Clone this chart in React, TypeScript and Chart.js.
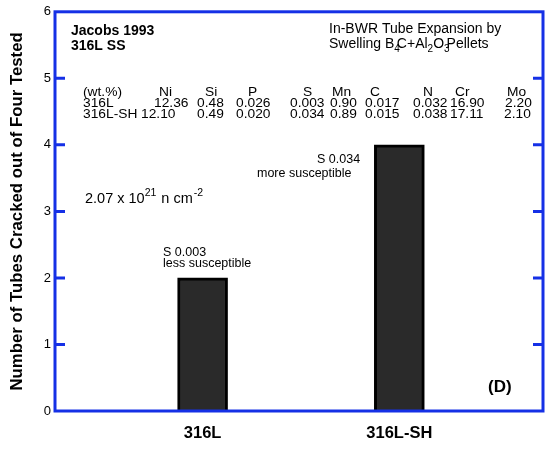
import React, { useEffect, useRef } from 'react';
import { Chart, registerables } from 'chart.js';

Chart.register(...registerables);

// ---- data ----
const categories = ['316L', '316L-SH'];
const crackedTubes = [2, 4];
const yTickValues = [0, 1, 2, 3, 4, 5, 6];
const elements = ['Ni', 'Si', 'P', 'S', 'Mn', 'C', 'N', 'Cr', 'Mo'];
const comp316L = ['12.36', '0.48', '0.026', '0.003', '0.90', '0.017', '0.032', '16.90', '2.20'];
const comp316LSH = ['12.10', '0.49', '0.020', '0.034', '0.89', '0.015', '0.038', '17.11', '2.10'];

// ---- styles / layout ----
const FONT = '"Liberation Sans", Arial, Helvetica, sans-serif';
const BLUE = '#1530e6';
const headerX = [159, 205, 248, 303, 332, 370, 423, 455, 507];
const row1X = [154, 197, 236, 290, 330, 365, 413, 450, 505];
const row2X = [141, 197, 236, 290, 330, 365, 413, 450, 504];

const fnt = (size: number, bold = false) => `${bold ? 'bold ' : ''}${size}px ${FONT}`;

const framePlugin = {
  id: 'frame',
  afterDatasetsDraw(chart: any) {
    const { ctx, chartArea: a, scales } = chart;
    ctx.save();
    ctx.strokeStyle = BLUE;
    ctx.lineWidth = 3;
    ctx.strokeRect(a.left, a.top, a.right - a.left, a.bottom - a.top);
    const y = scales.y;
    y.ticks.forEach((t: any) => {
      if (t.value <= y.min || t.value >= y.max) return;
      const py = y.getPixelForValue(t.value);
      ctx.beginPath();
      ctx.moveTo(a.left, py);
      ctx.lineTo(a.left + 10, py);
      ctx.moveTo(a.right, py);
      ctx.lineTo(a.right - 10, py);
      ctx.stroke();
    });
    ctx.restore();
  },
};

const annotationPlugin = {
  id: 'annotations',
  afterDraw(chart: any) {
    const ctx = chart.ctx;
    ctx.save();
    ctx.fillStyle = '#000';
    ctx.textAlign = 'left';
    ctx.textBaseline = 'alphabetic';

    ctx.font = fnt(14, true);
    ctx.fillText('Jacobs 1993', 71, 35);
    ctx.fillText('316L SS', 71, 50);

    ctx.font = fnt(14);
    ctx.fillText('In-BWR Tube Expansion by', 329, 33);
    let x = 329;
    const by = 48;
    const seg = (t: string, size: number, dy: number, adv = 1) => {
      ctx.font = fnt(size);
      ctx.fillText(t, x, by + dy);
      x += ctx.measureText(t).width * adv;
    };
    seg('Swelling B', 14, 0);
    seg('4', 10, 4, 0.45);
    seg('C+Al', 14, 0);
    seg('2', 10, 4);
    seg('O', 14, 0);
    seg('3', 10, 4, 0.45);
    seg('Pellets', 14, 0);

    // composition table
    const st = (t: string, px: number, py: number) => {
      ctx.save();
      ctx.translate(px, py);
      ctx.scale(1.06, 1);
      ctx.fillText(t, 0, 0);
      ctx.restore();
    };
    ctx.font = fnt(13);
    st('(wt.%)', 83, 96);
    st('316L', 83, 107);
    st('316L-SH', 83, 118);
    elements.forEach((e, i) => st(e, headerX[i], 96));
    comp316L.forEach((v, i) => st(v, row1X[i], 107));
    comp316LSH.forEach((v, i) => st(v, row2X[i], 118));

    // fluence
    let fx = 85;
    const fy = 203;
    const fseg = (t: string, size: number, dy: number, gap = 0) => {
      ctx.font = fnt(size);
      ctx.fillText(t, fx, fy + dy);
      fx += ctx.measureText(t).width + gap;
    };
    fseg('2.07 x 10', 14.5, 0);
    fseg('21', 10.5, -7, 5);
    fseg('n cm', 14.5, 0, 1);
    fseg('-2', 10.5, -7);

    ctx.font = fnt(12.5);
    ctx.fillText('S 0.034', 317, 163);
    ctx.fillText('more susceptible', 257, 177);
    ctx.fillText('S 0.003', 163, 256);
    ctx.fillText('less susceptible', 163, 267);

    ctx.font = fnt(17, true);
    ctx.fillText('(D)', 488, 392);
    ctx.restore();
  },
};

export default function App() {
  const ref = useRef<HTMLCanvasElement | null>(null);
  useEffect(() => {
    if (!ref.current) return;
    const chart = new Chart(ref.current, {
      type: 'bar',
      data: {
        datasets: [
          {
            data: categories.map((c, i) => ({ x: i + 1, y: crackedTubes[i] })) as any,
            backgroundColor: '#2a2a2a',
            borderColor: '#000',
            borderWidth: 3,
            barThickness: 50,
          },
        ],
      },
      options: {
        responsive: false,
        animation: false,
        layout: { padding: { top: 10, right: 4, left: 0, bottom: 0 } },
        plugins: { legend: { display: false }, tooltip: { enabled: false } },
        scales: {
          x: {
            type: 'linear',
            min: 0.25,
            max: 2.73,
            offset: false,
            grid: { display: false, drawTicks: false, offset: false },
            border: { display: false },
            afterBuildTicks: (s: any) => {
              s.ticks = categories.map((_, i) => ({ value: i + 1 }));
            },
            afterFit: (s: any) => {
              s.height = 39;
            },
            ticks: {
              autoSkip: false,
              maxRotation: 0,
              padding: 13,
              color: '#000',
              font: { family: FONT, size: 16.5, weight: 'bold' },
              callback: (v: any) => categories[Number(v) - 1] ?? '',
            },
          },
          y: {
            min: 0,
            max: 6,
            grid: { display: false, drawTicks: false },
            border: { display: false },
            afterBuildTicks: (s: any) => {
              s.ticks = yTickValues.map((v) => ({ value: v }));
            },
            afterFit: (s: any) => {
              s.width = 55;
            },
            ticks: {
              padding: 4,
              color: '#000',
              font: { family: FONT, size: 13 },
            },
            title: {
              display: true,
              text: 'Number of Tubes Cracked out of Four Tested',
              color: '#000',
              padding: { top: 7, bottom: 0 },
              font: { family: FONT, size: 16.8, weight: 'bold' },
            },
          },
        },
      } as any,
      plugins: [framePlugin, annotationPlugin],
    });
    return () => chart.destroy();
  }, []);
  return (
    <div style={{ position: 'absolute', left: 0, top: 0, width: 547, height: 450, background: '#fff' }}>
      <canvas ref={ref} width={547} height={450} />
    </div>
  );
}
